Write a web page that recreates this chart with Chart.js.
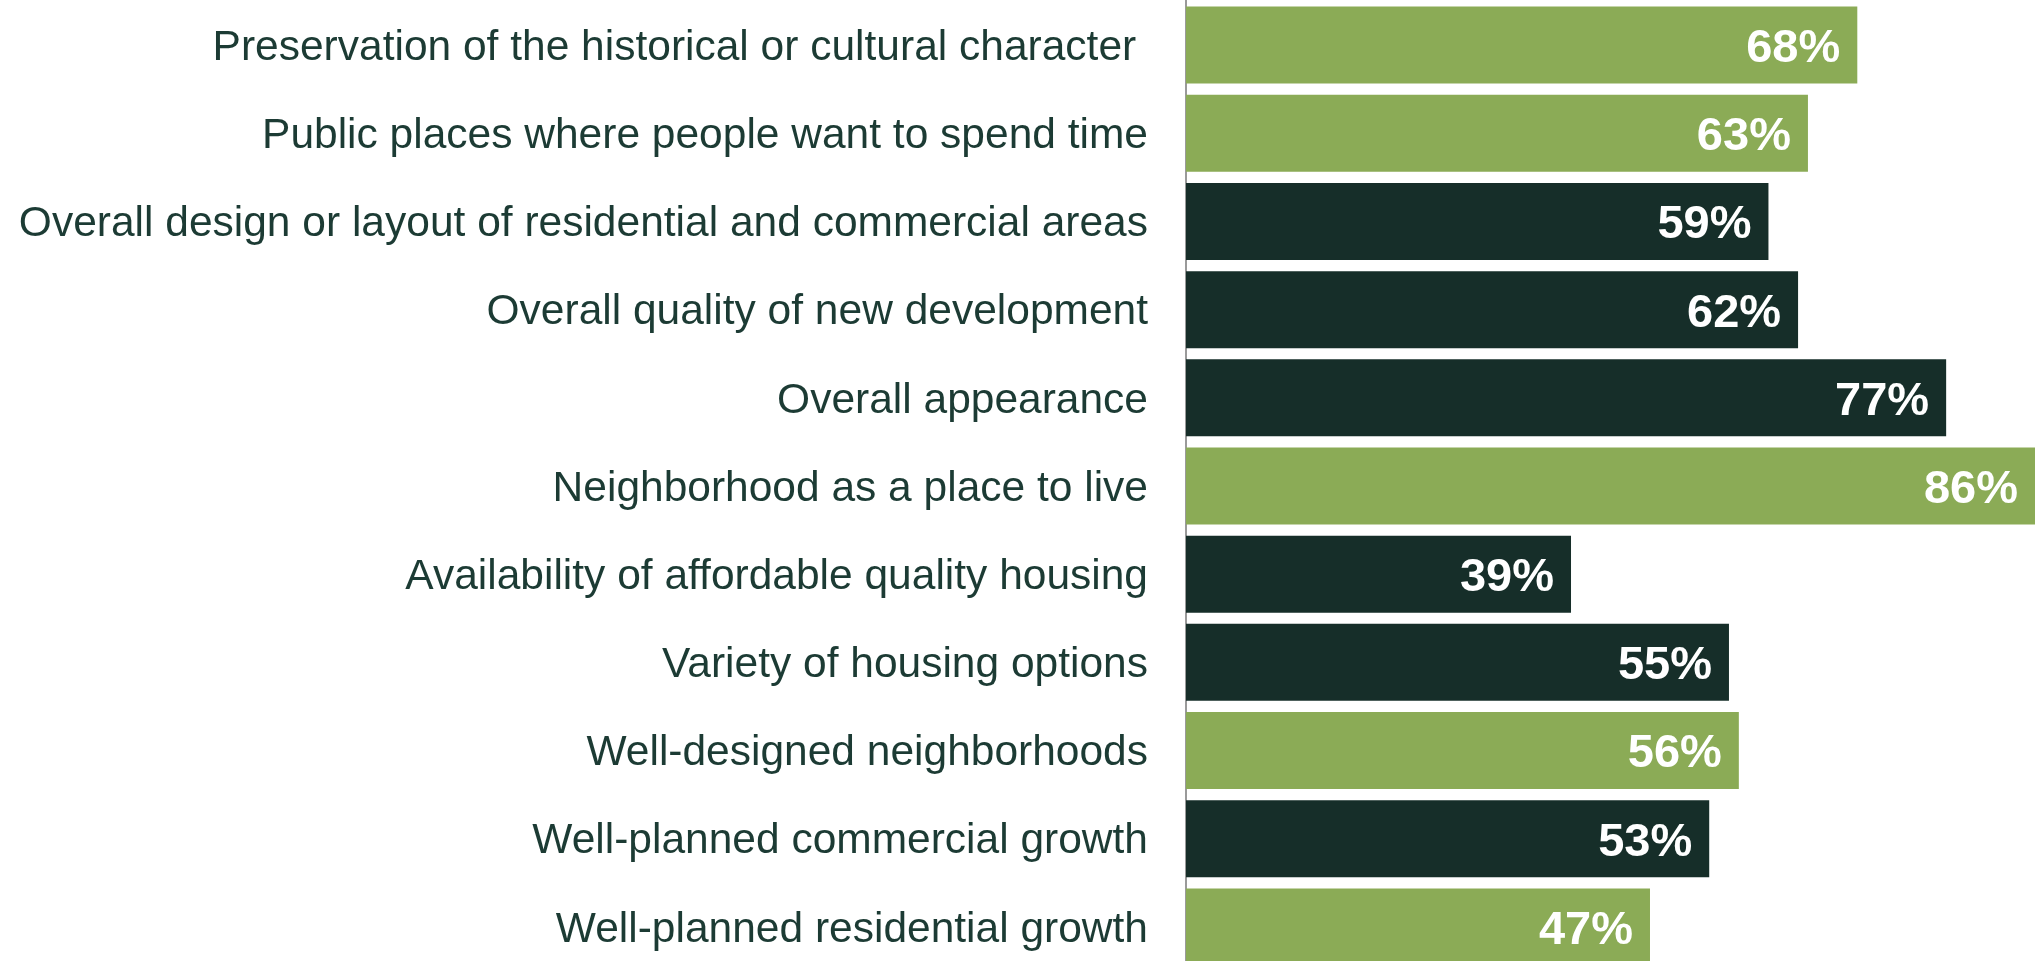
<!DOCTYPE html>
<html>
<head>
<meta charset="utf-8">
<script src="https://cdn.jsdelivr.net/npm/chart.js@4"></script>
<style>
  html, body { margin: 0; padding: 0; background: #fff; }
  #wrap { width: 2039px; height: 961px; overflow: hidden; position: relative; }
  #box { width: 2039px; height: 971px; position: absolute; top: 0; left: 0; }
</style>
</head>
<body>
<div id="wrap"><div id="box"><canvas id="myChart"></canvas></div></div>
<script>
var categories = [
  "Preservation of the historical or cultural character ",
  "Public places where people want to spend time",
  "Overall design or layout of residential and commercial areas",
  "Overall quality of new development",
  "Overall appearance",
  "Neighborhood as a place to live",
  "Availability of affordable quality housing",
  "Variety of housing options",
  "Well-designed neighborhoods",
  "Well-planned commercial growth",
  "Well-planned residential growth"
];
var values = [68, 63, 59, 62, 77, 86, 39, 55, 56, 53, 47];
// g = light green bar, d = dark bar
var shades = ["g", "g", "d", "d", "d", "g", "d", "d", "g", "d", "g"];

var green = "#8bab56";
var dark = "#162e29";

var barColors = shades.map(function(s){ return s == "g" ? green : dark; });

// white % labels inside the end of each bar
var valueLabels = {
  id: 'valueLabels',
  afterDatasetsDraw: function(chart){
    var ctx = chart.ctx;
    var meta = chart.getDatasetMeta(0);
    ctx.save();
    ctx.fillStyle = "#ffffff";
    ctx.font = "bold 47px 'Liberation Sans', Arial, sans-serif";
    ctx.textAlign = "right";
    ctx.textBaseline = "middle";
    meta.data.forEach(function(bar, i){
      ctx.fillText(values[i] + "%", bar.x - 17, bar.y + 4);
    });
    ctx.restore();
  }
};

var ctx = document.getElementById("myChart").getContext('2d');
var myChart = new Chart(ctx, {
  type: 'bar',
  data: {
    labels: categories,
    datasets: [{
      data: values,
      backgroundColor: barColors,
      borderWidth: 0,
      barPercentage: 0.873,
      categoryPercentage: 1.0
    }]
  },
  options: {
    indexAxis: 'y',
    responsive: true,
    maintainAspectRatio: false,
    animation: false,
    layout: { padding: { top: 1, right: 4, bottom: 0, left: 0 } },
    plugins: {
      legend: { display: false },
      tooltip: { enabled: false }
    },
    scales: {
      x: {
        min: 0,
        max: 86,
        display: false,
        grid: { display: false }
      },
      y: {
        afterFit: function(scale){
          scale.width = 1186;
          scale.paddingTop = 0;
          scale.paddingBottom = 0;
        },
        grid: { display: false, drawTicks: false },
        border: { display: true, color: "#9a9a9a", width: 2 },
        ticks: {
          padding: 38,
          labelOffset: 3,
          color: "#1c3b34",
          font: { family: "'Liberation Sans', Arial, sans-serif", size: 42.5 }
        }
      }
    }
  },
  plugins: [valueLabels]
});
</script>
</body>
</html>
